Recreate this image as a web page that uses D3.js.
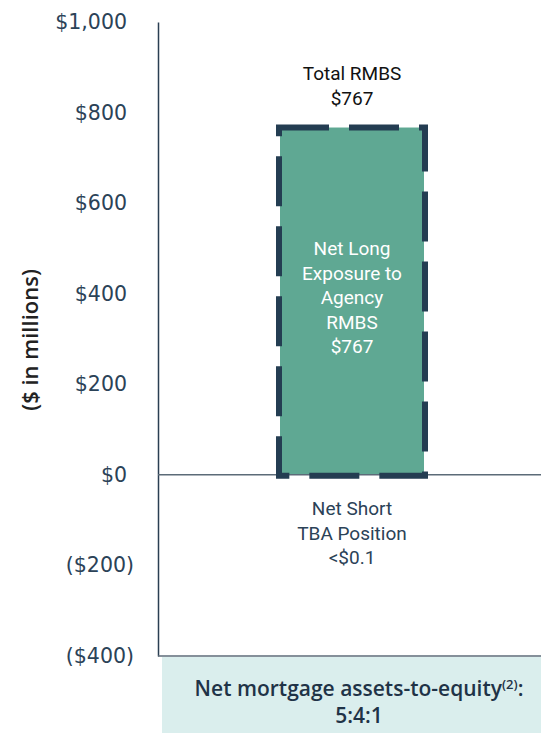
<!DOCTYPE html>
<html>
<head>
<meta charset="utf-8">
<script src="https://cdn.jsdelivr.net/npm/d3@7"></script>
<style>
  body { margin: 0; background: #fff; }
  svg text { font-family: Roboto, "Open Sans", sans-serif; }
  svg text.wide { font-family: "Open Sans", Roboto, sans-serif; }
  svg text.tickl { font-family: "DejaVu Sans", "Open Sans", sans-serif; }
</style>
</head>
<body>
<svg class="chart" width="541" height="733"></svg>
<script>
// values
var categories = ["Agency RMBS"];
var netLong = [767];
var netShortTBA = [0.1];
var tickValues = [-400, -200, 0, 200, 400, 600, 800, 1000];
var tickLabels = ["($400)", "($200)", "$0", "$200", "$400", "$600", "$800", "$1,000"];
var barLabel = ["Net Long", "Exposure to", "Agency", "RMBS", "$767"];
var topLabel = ["Total RMBS", "$767"];
var shortLabel = ["Net Short", "TBA Position", "<$0.1"];
var footLines = ["Net mortgage assets-to-equity", "5:4:1"];

var svg = d3.select("svg.chart");

var y = d3.scaleLinear().domain([-400, 1000]).range([656, 22]);
var x = d3.scaleBand().domain(categories).range([280, 424]).padding(0);

/* footer box */
svg.append("rect")
    .attr("x", 162).attr("y", 657)
    .attr("width", 379).attr("height", 76)
    .attr("fill", "#daeeed");

/* y axis */
var yAxis = d3.axisLeft(y)
    .tickValues(tickValues)
    .tickSize(0)
    .tickPadding(31)
    .tickFormat(function(d, i){ return tickLabels[i]; });

var gy = svg.append("g")
    .attr("transform", "translate(158,0)")
    .call(yAxis);
gy.select(".domain").attr("stroke", "#2a3e52").attr("stroke-width", 1.5);
gy.selectAll("text")
    .attr("class", "tickl")
    .attr("fill", "#2b4257")
    .style("font-size", "20.5px")
    // negative labels hang their closing paren past the column
    .attr("dx", function(d){ return d < 0 ? 7 : 0; });

/* bottom line */
svg.append("line")
    .attr("x1", 158).attr("x2", 541)
    .attr("y1", y(-400)).attr("y2", y(-400))
    .attr("stroke", "#5c6b78").attr("stroke-width", 1.5);

/* axis title */
svg.append("text")
    .attr("class", "wide")
    .attr("transform", "translate(38,340) rotate(-90)")
    .attr("text-anchor", "middle")
    .attr("fill", "#222")
    .style("font-size", "22px")
    .style("font-weight", "600")
    .text("($ in millions)");

/* bar */
svg.selectAll("rect.bar")
    .data(netLong)
    .enter().append("rect")
    .attr("class", "bar")
    .attr("x", function(d, i){ return x(categories[i]); })
    .attr("y", function(d){ return y(d); })
    .attr("width", x.bandwidth())
    .attr("height", function(d){ return y(0) - y(d); })
    .attr("fill", "#5fa893");

/* zero line */
svg.append("line")
    .attr("x1", 158).attr("x2", 541)
    .attr("y1", y(0)).attr("y2", y(0))
    .attr("stroke", "#5c6b78").attr("stroke-width", 1.5);

/* dashed outline around bar */
svg.selectAll("rect.outline")
    .data(netLong)
    .enter().append("rect")
    .attr("class", "outline")
    .attr("x", function(d, i){ return x(categories[i]) - 1; })
    .attr("y", function(d){ return y(d); })
    .attr("width", x.bandwidth() + 2)
    .attr("height", function(d){ return y(0) - y(d) + 1; })
    .attr("fill", "none")
    .attr("stroke", "#243d52")
    .attr("stroke-width", 6)
    .attr("stroke-dasharray", "50,20");

var cx = x(categories[0]) + x.bandwidth() / 2;

function lines(arr, y0, fill, size, weight){
    svg.append("g").selectAll("text")
        .data(arr)
        .enter().append("text")
        .attr("x", cx)
        .attr("y", function(d, i){ return y0 + i * 24.5; })
        .attr("text-anchor", "middle")
        .attr("fill", fill)
        .style("font-size", size)
        .style("font-weight", weight || "normal")
        .text(function(d){ return d; });
}

lines(topLabel, 80, "#111", "19px");
lines(barLabel, 255, "#fff", "19px");
lines(shortLabel, 515, "#2b4257", "19px");

/* footer text */
var ft = svg.append("text")
    .attr("class", "wide")
    .attr("x", 359).attr("y", 696)
    .attr("text-anchor", "middle")
    .attr("fill", "#1f3347")
    .style("font-size", "21px")
    .style("font-weight", "600");
ft.append("tspan").text(footLines[0]);
ft.append("tspan").attr("dy", -7).style("font-size", "13px").text("(2)");
ft.append("tspan").attr("dy", 7).text(":");

svg.append("text")
    .attr("class", "wide")
    .attr("x", 359).attr("y", 723)
    .attr("text-anchor", "middle")
    .attr("fill", "#1f3347")
    .style("font-size", "21px")
    .style("font-weight", "600")
    .text(footLines[1]);
</script>
</body>
</html>
